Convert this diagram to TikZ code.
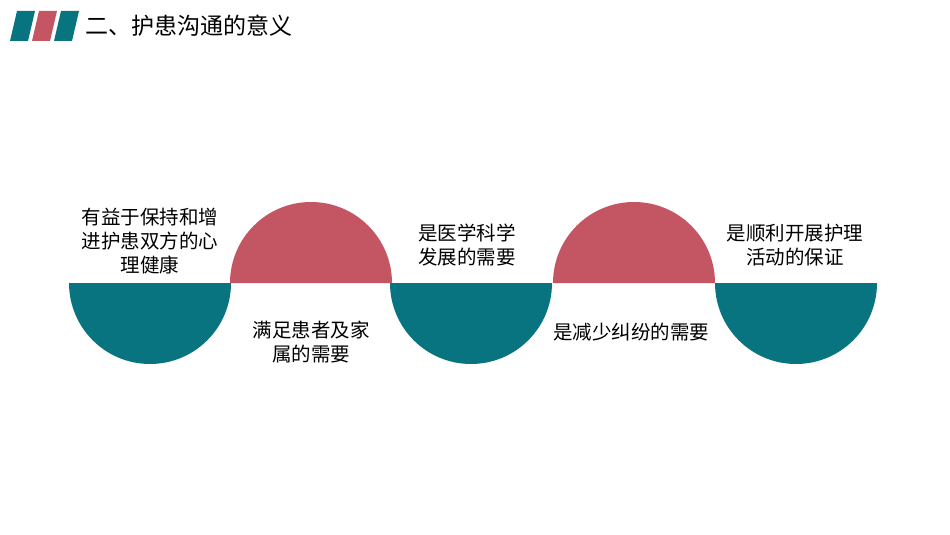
\documentclass[tikz,border=0pt]{standalone}
\usepackage{fontspec}
\setmainfont{Noto Sans CJK SC}
\definecolor{tealc}{RGB}{8,116,128}
\definecolor{rosec}{RGB}{196,86,100}
\begin{document}
\begin{tikzpicture}[x=1pt,y=-1pt,
    txt/.style={font=\fontsize{19.5}{24}\selectfont, align=center, text=black},
    bar/.style={fill=#1}
]
    \useasboundingbox (0,0) rectangle (950,535);

    % Header
    \fill[bar=tealc] (10,41) -- (17,11) -- (35,11) -- (28,41) -- cycle;
    \fill[bar=rosec] (32,41) -- (39,11) -- (57,11) -- (50,41) -- cycle;
    \fill[bar=tealc] (54,41) -- (61,11) -- (79,11) -- (72,41) -- cycle;
    \node[font=\fontsize{23}{26}\selectfont, anchor=west] (title) at (82,26) {二、护患沟通的意义};

    % Half discs
    \foreach \cx in {150,471,796}
        \fill[tealc] (\cx-81,283) arc[start angle=180, end angle=0, radius=81] -- cycle;
    \foreach \cx in {311,634}
        \fill[rosec] (\cx-81,283) arc[start angle=180, end angle=360, radius=81] -- cycle;

    % Texts
    \node[txt] (t1) at (150,241) {有益于保持和增\\进护患双方的心\\理健康};
    \node[txt] (t2) at (311,342) {满足患者及家\\属的需要};
    \node[txt] (t3) at (467,245) {是医学科学\\发展的需要};
    \node[txt] (t4) at (631,332) {是减少纠纷的需要};
    \node[txt] (t5) at (795,245) {是顺利开展护理\\活动的保证};
\end{tikzpicture}
\end{document}
